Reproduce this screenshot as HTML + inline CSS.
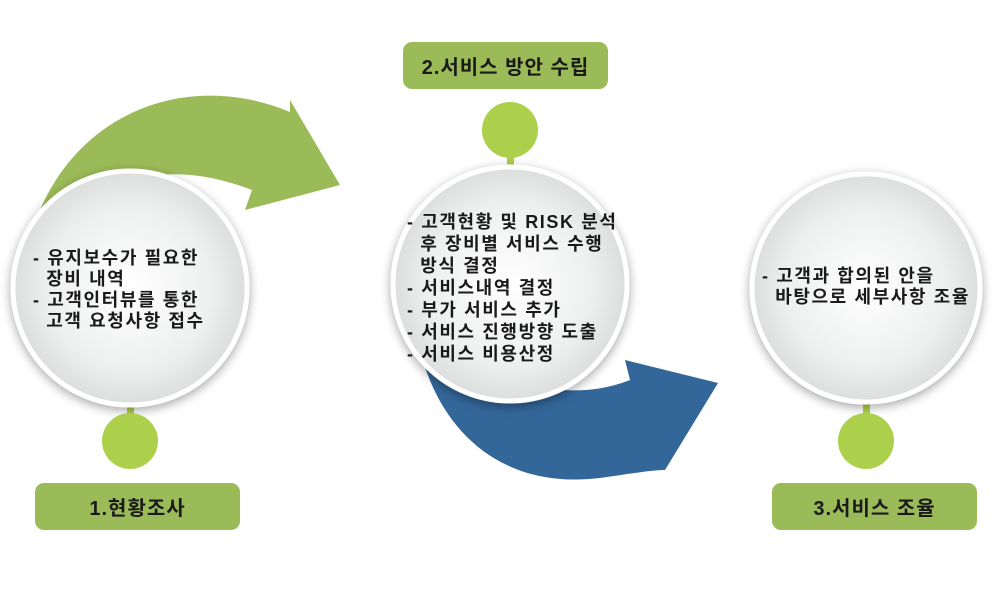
<!DOCTYPE html>
<html><head><meta charset="utf-8"><style>
html,body{margin:0;padding:0;background:#fff}
body{width:1000px;height:600px;position:relative;overflow:hidden;font-family:"Liberation Sans","Noto Sans CJK KR",sans-serif}
.t{position:absolute;font-weight:bold;color:#1a1a1a;font-size:18px;line-height:21px;white-space:nowrap;letter-spacing:1.6px}
.lb{position:absolute;font-weight:bold;font-size:20px;color:#1a1a1a;display:flex;align-items:center;justify-content:center;letter-spacing:1px}
</style></head><body>
<svg width="1000" height="600" style="position:absolute;left:0;top:0">
<defs>
<radialGradient id="g" cx="50%" cy="50%" r="50%">
<stop offset="0" stop-color="#ffffff"/><stop offset="0.7" stop-color="#eeefef"/><stop offset="1" stop-color="#dcdddd"/>
</radialGradient>
<filter id="s" x="-20%" y="-20%" width="140%" height="140%"><feDropShadow dx="0" dy="3" stdDeviation="5" flood-color="#000" flood-opacity="0.35"/></filter>
</defs>
<path d="M38,215 C80,110 190,70 290,112 L290,100 L340,185 L245,210 L252,190 C200,170 150,168 110,190 Z" fill="#9bbb59"/>
<path d="M420,350 C440,430 500,490 600,478 C630,474 650,470 665,470 L718,383 L625,360 L630,380 C580,400 520,390 480,360 Z" fill="#336699"/>
<rect x="127" y="400" width="7" height="25" fill="#acd04b"/>
<rect x="507" y="150" width="7" height="25" fill="#acd04b"/>
<rect x="863" y="400" width="7" height="25" fill="#acd04b"/>
<circle cx="130" cy="288" r="117" fill="url(#g)" stroke="#fff" stroke-width="5" filter="url(#s)"/>
<circle cx="510" cy="284" r="117" fill="url(#g)" stroke="#fff" stroke-width="5" filter="url(#s)"/>
<circle cx="866" cy="288" r="114" fill="url(#g)" stroke="#fff" stroke-width="5" filter="url(#s)"/>
<circle cx="130" cy="441" r="28" fill="#acd04b"/>
<circle cx="510" cy="130" r="28" fill="#acd04b"/>
<circle cx="866" cy="441" r="28" fill="#acd04b"/>
<rect x="35" y="483" width="205" height="47" rx="9" fill="#9bbb59"/>
<rect x="403" y="42" width="205" height="47" rx="9" fill="#9bbb59"/>
<rect x="772" y="483" width="205" height="47" rx="9" fill="#9bbb59"/>
</svg>
<div class="lb" style="left:35px;top:483px;width:205px;height:47px">1.현황조사</div>
<div class="lb" style="left:403px;top:42px;width:205px;height:47px">2.서비스 방안 수립</div>
<div class="lb" style="left:772px;top:483px;width:205px;height:47px">3.서비스 조율</div>
<div class="t" style="left:33px;top:248px">- 유지보수가 필요한<br>&nbsp;&nbsp;장비 내역<br>- 고객인터뷰를 통한<br>&nbsp;&nbsp;고객 요청사항 접수</div>
<div class="t" style="left:407px;top:211px;line-height:22px">- 고객현황 및 RISK 분석<br>&nbsp;&nbsp;후 장비별 서비스 수행<br>&nbsp;&nbsp;방식 결정<br>- 서비스내역 결정<br>- 부가 서비스 추가<br>- 서비스 진행방향 도출<br>- 서비스 비용산정</div>
<div class="t" style="left:762px;top:266px">- 고객과 합의된 안을<br>&nbsp;&nbsp;바탕으로 세부사항 조율</div>
</body></html>
